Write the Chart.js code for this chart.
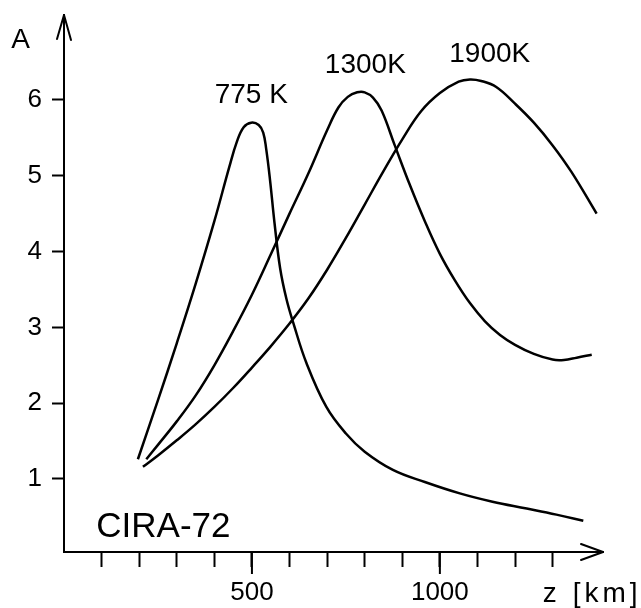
<!DOCTYPE html>
<html><head><meta charset="utf-8">
<script src="https://cdn.jsdelivr.net/npm/chart.js@4/dist/chart.umd.min.js"></script>
<style>html,body{margin:0;padding:0;background:#fff}#wrap{width:641px;height:608px;position:relative}canvas{display:block}</style>
</head><body><div id="wrap"><canvas id="c" width="641" height="608"></canvas></div>
<script>
// ---- data ----
const seriesNames = ['775 K', '1300K', '1900K'];

const z775 = [196.6, 250, 300, 350, 400, 440, 460, 478, 498, 518, 530, 538, 548, 560, 575, 592, 610, 645, 698, 750, 800, 875, 960, 1053, 1140, 1231, 1310, 1381.6];
const a775 = [1.26, 2.04, 2.79, 3.57, 4.40, 5.12, 5.45, 5.64, 5.70, 5.67, 5.57, 5.35, 4.95, 4.38, 3.78, 3.37, 3.06, 2.53, 1.95, 1.60, 1.36, 1.12, 0.96, 0.81, 0.70, 0.61, 0.53, 0.45];

const z1300 = [219, 250, 300, 350, 400, 450, 500, 550, 600, 650, 700, 730, 755, 780, 800, 822, 845, 880, 920, 960, 1000, 1040, 1080, 1120, 1160, 1200, 1250, 1300, 1330, 1364, 1404];
const a1300 = [1.26, 1.45, 1.76, 2.10, 2.50, 2.95, 3.43, 3.96, 4.50, 5.03, 5.60, 5.90, 6.04, 6.10, 6.10, 6.03, 5.86, 5.40, 4.88, 4.40, 3.97, 3.62, 3.32, 3.08, 2.90, 2.77, 2.65, 2.575, 2.57, 2.60, 2.64];

const z1900 = [210, 250, 300, 350, 400, 450, 500, 550, 600, 650, 700, 750, 800, 850, 900, 950, 1000, 1050, 1080, 1110, 1150, 1200, 1250, 1300, 1350, 1417];
const a1900 = [1.16, 1.31, 1.51, 1.72, 1.95, 2.20, 2.47, 2.75, 3.05, 3.38, 3.76, 4.18, 4.62, 5.06, 5.48, 5.85, 6.09, 6.24, 6.27, 6.25, 6.17, 5.95, 5.70, 5.40, 5.05, 4.50];

const xTicks = [100, 200, 300, 400, 500, 600, 700, 800, 900, 1000, 1100, 1200, 1300];
const xLabelledTicks = [500, 1000];
const yTicks = [1, 2, 3, 4, 5, 6];

const xTitle = 'z [km]';
const yTitle = 'A';
const modelLabel = 'CIRA-72';

// annotation anchors in data units (left, baseline)
const notes = [
  {text: seriesNames[0], x: 401, y: 5.96, size: 28},
  {text: seriesNames[1], x: 694, y: 6.353, size: 28},
  {text: seriesNames[2], x: 1025, y: 6.497, size: 28},
  {text: modelLabel, x: 86, y: 0.231, size: 35},
  {text: yTitle, x: -140.6, y: 6.68, size: 28},
  {text: xTitle, x: 1274, y: -0.62, size: 28, spacing: '4px'}
];

const FONT = "'Liberation Sans', Arial, sans-serif";

function toPts(xs, ys) { return xs.map((x, i) => ({x: x, y: ys[i]})); }

const lineStyle = {
  borderColor: '#000', borderWidth: 2.5, pointRadius: 0, fill: false,
  tension: 0.4, showLine: true
};

const decor = {
  id: 'decor',
  afterDraw(chart) {
    const ctx = chart.ctx, ca = chart.chartArea;
    const xs = chart.scales.x, ys = chart.scales.y;
    ctx.save();
    ctx.strokeStyle = '#000';
    ctx.lineWidth = 2;
    ctx.lineCap = 'round';
    ctx.lineJoin = 'round';
    // y arrow
    ctx.beginPath();
    ctx.moveTo(ca.left - 7, ca.top + 24);
    ctx.lineTo(ca.left, ca.top);
    ctx.lineTo(ca.left + 7, ca.top + 25);
    ctx.stroke();
    // x arrow
    ctx.beginPath();
    ctx.moveTo(ca.right - 22, ca.bottom - 8);
    ctx.lineTo(ca.right, ca.bottom);
    ctx.lineTo(ca.right - 22, ca.bottom + 8);
    ctx.stroke();
    // longer labelled ticks
    ctx.lineCap = 'butt';
    xLabelledTicks.forEach(v => {
      const px = xs.getPixelForValue(v);
      ctx.beginPath();
      ctx.moveTo(px, ca.bottom);
      ctx.lineTo(px, ca.bottom + 22);
      ctx.stroke();
    });
    // texts
    ctx.fillStyle = '#000';
    ctx.textAlign = 'left';
    ctx.textBaseline = 'alphabetic';
    notes.forEach(n => {
      ctx.font = n.size + 'px ' + FONT;
      ctx.letterSpacing = n.spacing || '0px';
      ctx.fillText(n.text, xs.getPixelForValue(n.x), ys.getPixelForValue(n.y));
    });
    ctx.restore();
  }
};

new Chart(document.getElementById('c'), {
  type: 'line',
  data: {
    datasets: [
      Object.assign({label: seriesNames[0], data: toPts(z775, a775)}, lineStyle),
      Object.assign({label: seriesNames[1], data: toPts(z1300, a1300)}, lineStyle),
      Object.assign({label: seriesNames[2], data: toPts(z1900, a1900)}, lineStyle)
    ]
  },
  options: {
    responsive: false,
    animation: false,
    devicePixelRatio: 1,
    layout: {padding: {top: 15, right: 38, left: 0, bottom: 0}},
    plugins: {legend: {display: false}, tooltip: {enabled: false}},
    scales: {
      x: {
        type: 'linear', min: 0, max: 1434,
        afterBuildTicks: s => { s.ticks = xTicks.map(v => ({value: v})); },
        afterFit: s => { s.height = 56; s.paddingLeft = 0; s.paddingRight = 0; },
        ticks: {
          autoSkip: false, maxRotation: 0, padding: 10, color: '#000',
          font: {family: FONT, size: 26},
          callback: v => xLabelledTicks.includes(v) ? String(v) : ''
        },
        grid: {drawOnChartArea: false, tickLength: 15, tickColor: '#000', tickWidth: 2},
        border: {color: '#000', width: 2}
      },
      y: {
        type: 'linear', min: 0.037, max: 7.12,
        afterBuildTicks: s => { s.ticks = yTicks.map(v => ({value: v})); },
        afterFit: s => { s.width = 64; s.paddingTop = 0; s.paddingBottom = 0; },
        ticks: {
          padding: 10, color: '#000',
          font: {family: FONT, size: 26},
          callback: v => String(v)
        },
        grid: {drawOnChartArea: false, tickLength: 12, tickColor: '#000', tickWidth: 2},
        border: {color: '#000', width: 2}
      }
    }
  },
  plugins: [decor]
});
</script>
</body></html>
